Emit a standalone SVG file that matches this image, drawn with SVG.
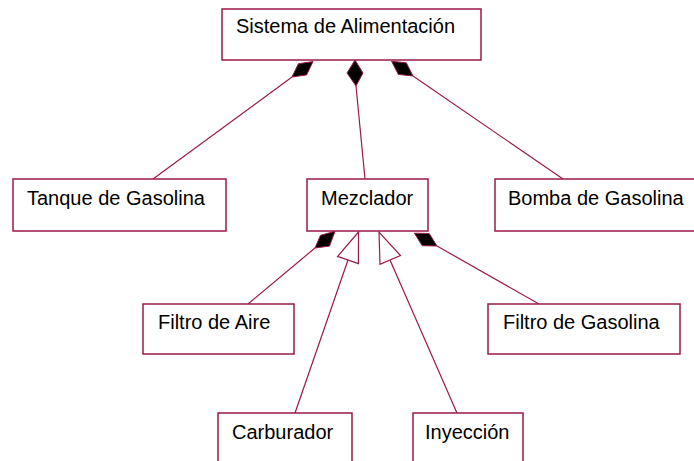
<svg xmlns="http://www.w3.org/2000/svg" width="694" height="461" viewBox="0 0 694 461">
<style>
.box{fill:#fff;stroke:#9a1a4a;stroke-width:1.5}
.ln{stroke:#9a1a4a;stroke-width:1.2;fill:none}
.dia{fill:#000;stroke:#9a1a4a;stroke-width:1}
.tri{fill:#fff;stroke:#9a1a4a;stroke-width:1.2}
text{font-family:"Liberation Sans",Arial,sans-serif;font-size:20px;fill:#000}
</style>
<rect width="694" height="461" fill="#fff"/>
<g id="connectors">
<line class="ln" x1="153" y1="179" x2="292" y2="77"/>
<polygon class="dia" points="292,77 306.6,74.9 313,61.6 298.4,63.7"/>
<line class="ln" x1="365" y1="179" x2="356" y2="86"/>
<polygon class="dia" points="356,86 363,73 355,60 347,73"/>
<line class="ln" x1="563" y1="179" x2="413" y2="76"/>
<polygon class="dia" points="413,76 398.3,74.4 391.6,61.3 406.3,62.8"/>
<line class="ln" x1="248" y1="304" x2="315" y2="248"/>
<polygon class="dia" points="315,248 329.5,246.1 335,231.3 320.5,235.3"/>
<line class="ln" x1="539" y1="304" x2="437" y2="246"/>
<polygon class="dia" points="437,246 422.2,245.7 414.4,233.2 429.2,233.5"/>
<line class="ln" x1="295" y1="413" x2="348" y2="260"/>
<polygon class="tri" points="358.5,232 337.6,256.4 358.4,263.6"/>
<line class="ln" x1="457" y1="413" x2="390" y2="260"/>
<polygon class="tri" points="379,232 380,264.4 400.5,255.6"/>
</g>
<g id="sistema"><rect class="box" x="222" y="9" width="259" height="51"/><text x="236" y="33">Sistema de Alimentación</text></g>
<g id="tanque"><rect class="box" x="13" y="179" width="213" height="52"/><text x="27" y="205">Tanque de Gasolina</text></g>
<g id="mezclador"><rect class="box" x="307" y="179" width="121" height="52"/><text x="321" y="205">Mezclador</text></g>
<g id="bomba"><rect class="box" x="495" y="179" width="210" height="52"/><text x="508" y="205">Bomba de Gasolina</text></g>
<g id="filtroAire"><rect class="box" x="143" y="304" width="151" height="50"/><text x="158" y="329">Filtro de Aire</text></g>
<g id="filtroGasolina"><rect class="box" x="488" y="304" width="192" height="50"/><text x="503" y="329">Filtro de Gasolina</text></g>
<g id="carburador"><rect class="box" x="218" y="413" width="134" height="60"/><text x="232" y="439">Carburador</text></g>
<g id="inyeccion"><rect class="box" x="413" y="413" width="110" height="60"/><text x="425" y="439">Inyección</text></g>
</svg>
